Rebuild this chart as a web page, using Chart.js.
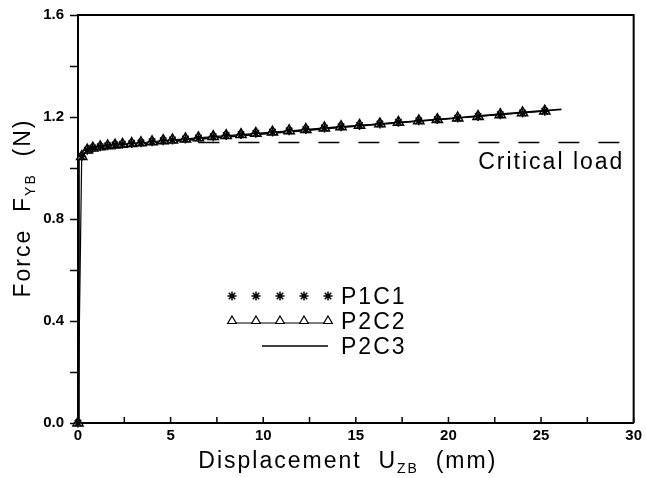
<!DOCTYPE html>
<html>
<head>
<meta charset="utf-8">
<script src="https://cdn.jsdelivr.net/npm/chart.js@4/dist/chart.umd.min.js"></script>
<style>
  html, body { margin: 0; padding: 0; background: #fff; }
  #wrap { width: 646px; height: 478px; }
</style>
</head>
<body>
<div id="wrap"><canvas id="forceChart" width="646" height="478"></canvas></div>
<script>
// Data
var markerDisp = [0, 0.2, 0.5, 0.8, 1.2, 1.6, 2.0, 2.4, 2.9, 3.4, 4.0, 4.6, 5.1, 5.8, 6.5, 7.3, 8.0, 8.8, 9.6,
                  10.5, 11.4, 12.3, 13.3, 14.2, 15.2, 16.3, 17.3, 18.4, 19.4, 20.5, 21.6, 22.8, 24.0, 25.2];
var forceP1C1 = [0, 1.045, 1.07, 1.078, 1.083, 1.087, 1.09, 1.093, 1.096, 1.099, 1.103, 1.107, 1.11, 1.114, 1.118, 1.123, 1.127, 1.131, 1.136,
                 1.141, 1.146, 1.151, 1.157, 1.162, 1.167, 1.173, 1.179, 1.185, 1.19, 1.196, 1.202, 1.209, 1.216, 1.223];
var forceP2C2 = [0, 1.045, 1.07, 1.078, 1.083, 1.087, 1.09, 1.093, 1.096, 1.099, 1.103, 1.107, 1.11, 1.114, 1.118, 1.123, 1.127, 1.131, 1.136,
                 1.141, 1.146, 1.151, 1.157, 1.162, 1.167, 1.173, 1.179, 1.185, 1.19, 1.196, 1.202, 1.209, 1.216, 1.223];
var lineDisp = [0, 0.05, 0.3, 0.6, 1, 1.5, 2, 3, 4, 5, 6, 8, 10, 12, 14, 16, 18, 20, 22, 24, 26.1];
var forceP2C3 = [0, 1.04, 1.06, 1.068, 1.074, 1.079, 1.083, 1.09, 1.097, 1.104, 1.11, 1.122, 1.134, 1.146, 1.158, 1.17, 1.182, 1.194, 1.206, 1.218, 1.23];
var criticalDisp = [6.5, 29.4];
var criticalLoad = [1.1, 1.1];
var seriesNames = ["P1C1", "P2C2", "P2C3"];

function toPoints(xs, ys) {
    return xs.map(function(x, i) { return { x: x, y: ys[i] }; });
}

var titleFont = '23px "Liberation Sans", Arial, sans-serif';
var subFont = '14px "Liberation Sans", Arial, sans-serif';

// draws text made of normal and subscript parts, centred on x
function drawParts(ctx, parts, x, y) {
    var widths = parts.map(function(p) {
        ctx.font = p.sub ? subFont : titleFont;
        return ctx.measureText(p.t).width;
    });
    var total = widths.reduce(function(a, b) { return a + b; }, 0);
    var cx = x - total / 2;
    parts.forEach(function(p, i) {
        ctx.font = p.sub ? subFont : titleFont;
        ctx.fillText(p.t, cx, p.sub ? y + 5 : y);
        cx += widths[i];
    });
}

var decorPlugin = {
    id: "decor",
    afterDraw: function(chart) {
        var ctx = chart.ctx;
        var area = chart.chartArea;
        var xs = chart.scales.x;
        var ys = chart.scales.y;
        ctx.save();
        ctx.setLineDash([]);
        ctx.strokeStyle = "#000";
        ctx.fillStyle = "#000";

        // frame top and right
        ctx.lineWidth = 2;
        ctx.beginPath();
        ctx.moveTo(area.left, area.top);
        ctx.lineTo(area.right, area.top);
        ctx.lineTo(area.right, area.bottom);
        ctx.stroke();

        // x ticks point inward
        ctx.lineWidth = 1.5;
        xs.ticks.forEach(function(t) {
            var px = xs.getPixelForValue(t.value);
            ctx.beginPath();
            ctx.moveTo(px, area.bottom);
            ctx.lineTo(px, area.bottom - 6);
            ctx.stroke();
        });

        ctx.letterSpacing = "2px";
        ctx.textBaseline = "alphabetic";
        ctx.textAlign = "left";

        // axis titles
        drawParts(ctx, [{ t: "Displacement  U", sub: false }, { t: "ZB", sub: true }, { t: "  (mm)", sub: false }],
            (area.left + area.right) / 2 - 8, 468);
        ctx.save();
        ctx.translate(30, 208);
        ctx.rotate(-Math.PI / 2);
        drawParts(ctx, [{ t: "Force  F", sub: false }, { t: "YB", sub: true }, { t: "  (N)", sub: false }], 0, 0);
        ctx.restore();

        // critical load label
        ctx.font = titleFont;
        ctx.textAlign = "right";
        ctx.fillText("Critical load", xs.getPixelForValue(29.5), ys.getPixelForValue(1.1) + 26);

        // legend
        var rowY = [296, 321, 346];
        var symL = 232, symR = 328;
        ctx.textAlign = "left";
        seriesNames.forEach(function(name, i) {
            ctx.font = titleFont;
            ctx.fillText(name, 341, rowY[i] + 8);
        });
        var step = (symR - symL) / 4;
        for (var k = 0; k < 5; k++) {
            Chart.helpers.drawPoint(ctx, { pointStyle: "star", radius: 4.5, rotation: 0, borderWidth: 1.6 }, symL + k * step, rowY[0]);
        }
        ctx.lineWidth = 1.2;
        ctx.beginPath();
        ctx.moveTo(symL, rowY[1] + 2);
        ctx.lineTo(symR, rowY[1] + 2);
        ctx.stroke();
        ctx.fillStyle = "#fff";
        for (k = 0; k < 5; k++) {
            Chart.helpers.drawPoint(ctx, { pointStyle: "triangle", radius: 5, rotation: 0, borderWidth: 1.4 }, symL + k * step, rowY[1]);
        }
        ctx.lineWidth = 1.5;
        ctx.beginPath();
        ctx.moveTo(symL + 30, rowY[2]);
        ctx.lineTo(symR, rowY[2]);
        ctx.stroke();
        ctx.restore();
    }
};

var tickFont = { family: '"Liberation Sans", Arial, sans-serif', size: 15, weight: "bold" };

new Chart(document.getElementById("forceChart"), {
    type: "scatter",
    data: {
        datasets: [
            {
                label: seriesNames[0],
                data: toPoints(markerDisp, forceP1C1),
                showLine: false, pointStyle: "star", pointRadius: 4.5,
                pointBorderColor: "#000", pointBorderWidth: 1.6, clip: false
            },
            {
                label: seriesNames[1],
                data: toPoints(markerDisp, forceP2C2),
                showLine: true, borderColor: "#000", borderWidth: 1.2,
                pointStyle: "triangle", pointRadius: 6, pointBackgroundColor: "#fff",
                pointBorderColor: "#000", pointBorderWidth: 1.4, clip: false
            },
            {
                label: seriesNames[2],
                data: toPoints(lineDisp, forceP2C3),
                showLine: true, borderColor: "#000", borderWidth: 1.8, pointRadius: 0
            },
            {
                label: "Critical load",
                data: toPoints(criticalDisp, criticalLoad),
                showLine: true, borderColor: "#000", borderWidth: 1.5,
                borderDash: [21, 19], pointRadius: 0
            }
        ]
    },
    options: {
        responsive: false,
        animation: false,
        layout: { padding: { top: 14, right: 9, left: 0, bottom: 0 } },
        plugins: { legend: { display: false }, tooltip: { enabled: false } },
        scales: {
            x: {
                type: "linear", min: 0, max: 30,
                afterFit: function(scale) { scale.height = 55; },
                border: { color: "#000", width: 2 },
                grid: { drawOnChartArea: false, drawTicks: false },
                ticks: {
                    stepSize: 2.5, color: "#000", font: tickFont, padding: 4, maxRotation: 0,
                    callback: function(v) { return v % 5 === 0 ? String(v) : ""; }
                }
            },
            y: {
                type: "linear", min: 0, max: 1.6,
                afterFit: function(scale) { scale.width = 78; },
                border: { color: "#000", width: 2 },
                grid: { drawOnChartArea: false, drawTicks: true, tickLength: 8, color: "#000", tickWidth: 1.5 },
                ticks: {
                    stepSize: 0.2, color: "#000", font: tickFont, padding: 6,
                    callback: function(v) {
                        var r = Math.round(v * 10);
                        return r % 4 === 0 ? (r / 10).toFixed(1) : "";
                    }
                }
            }
        }
    },
    plugins: [decorPlugin]
});
</script>
</body>
</html>
